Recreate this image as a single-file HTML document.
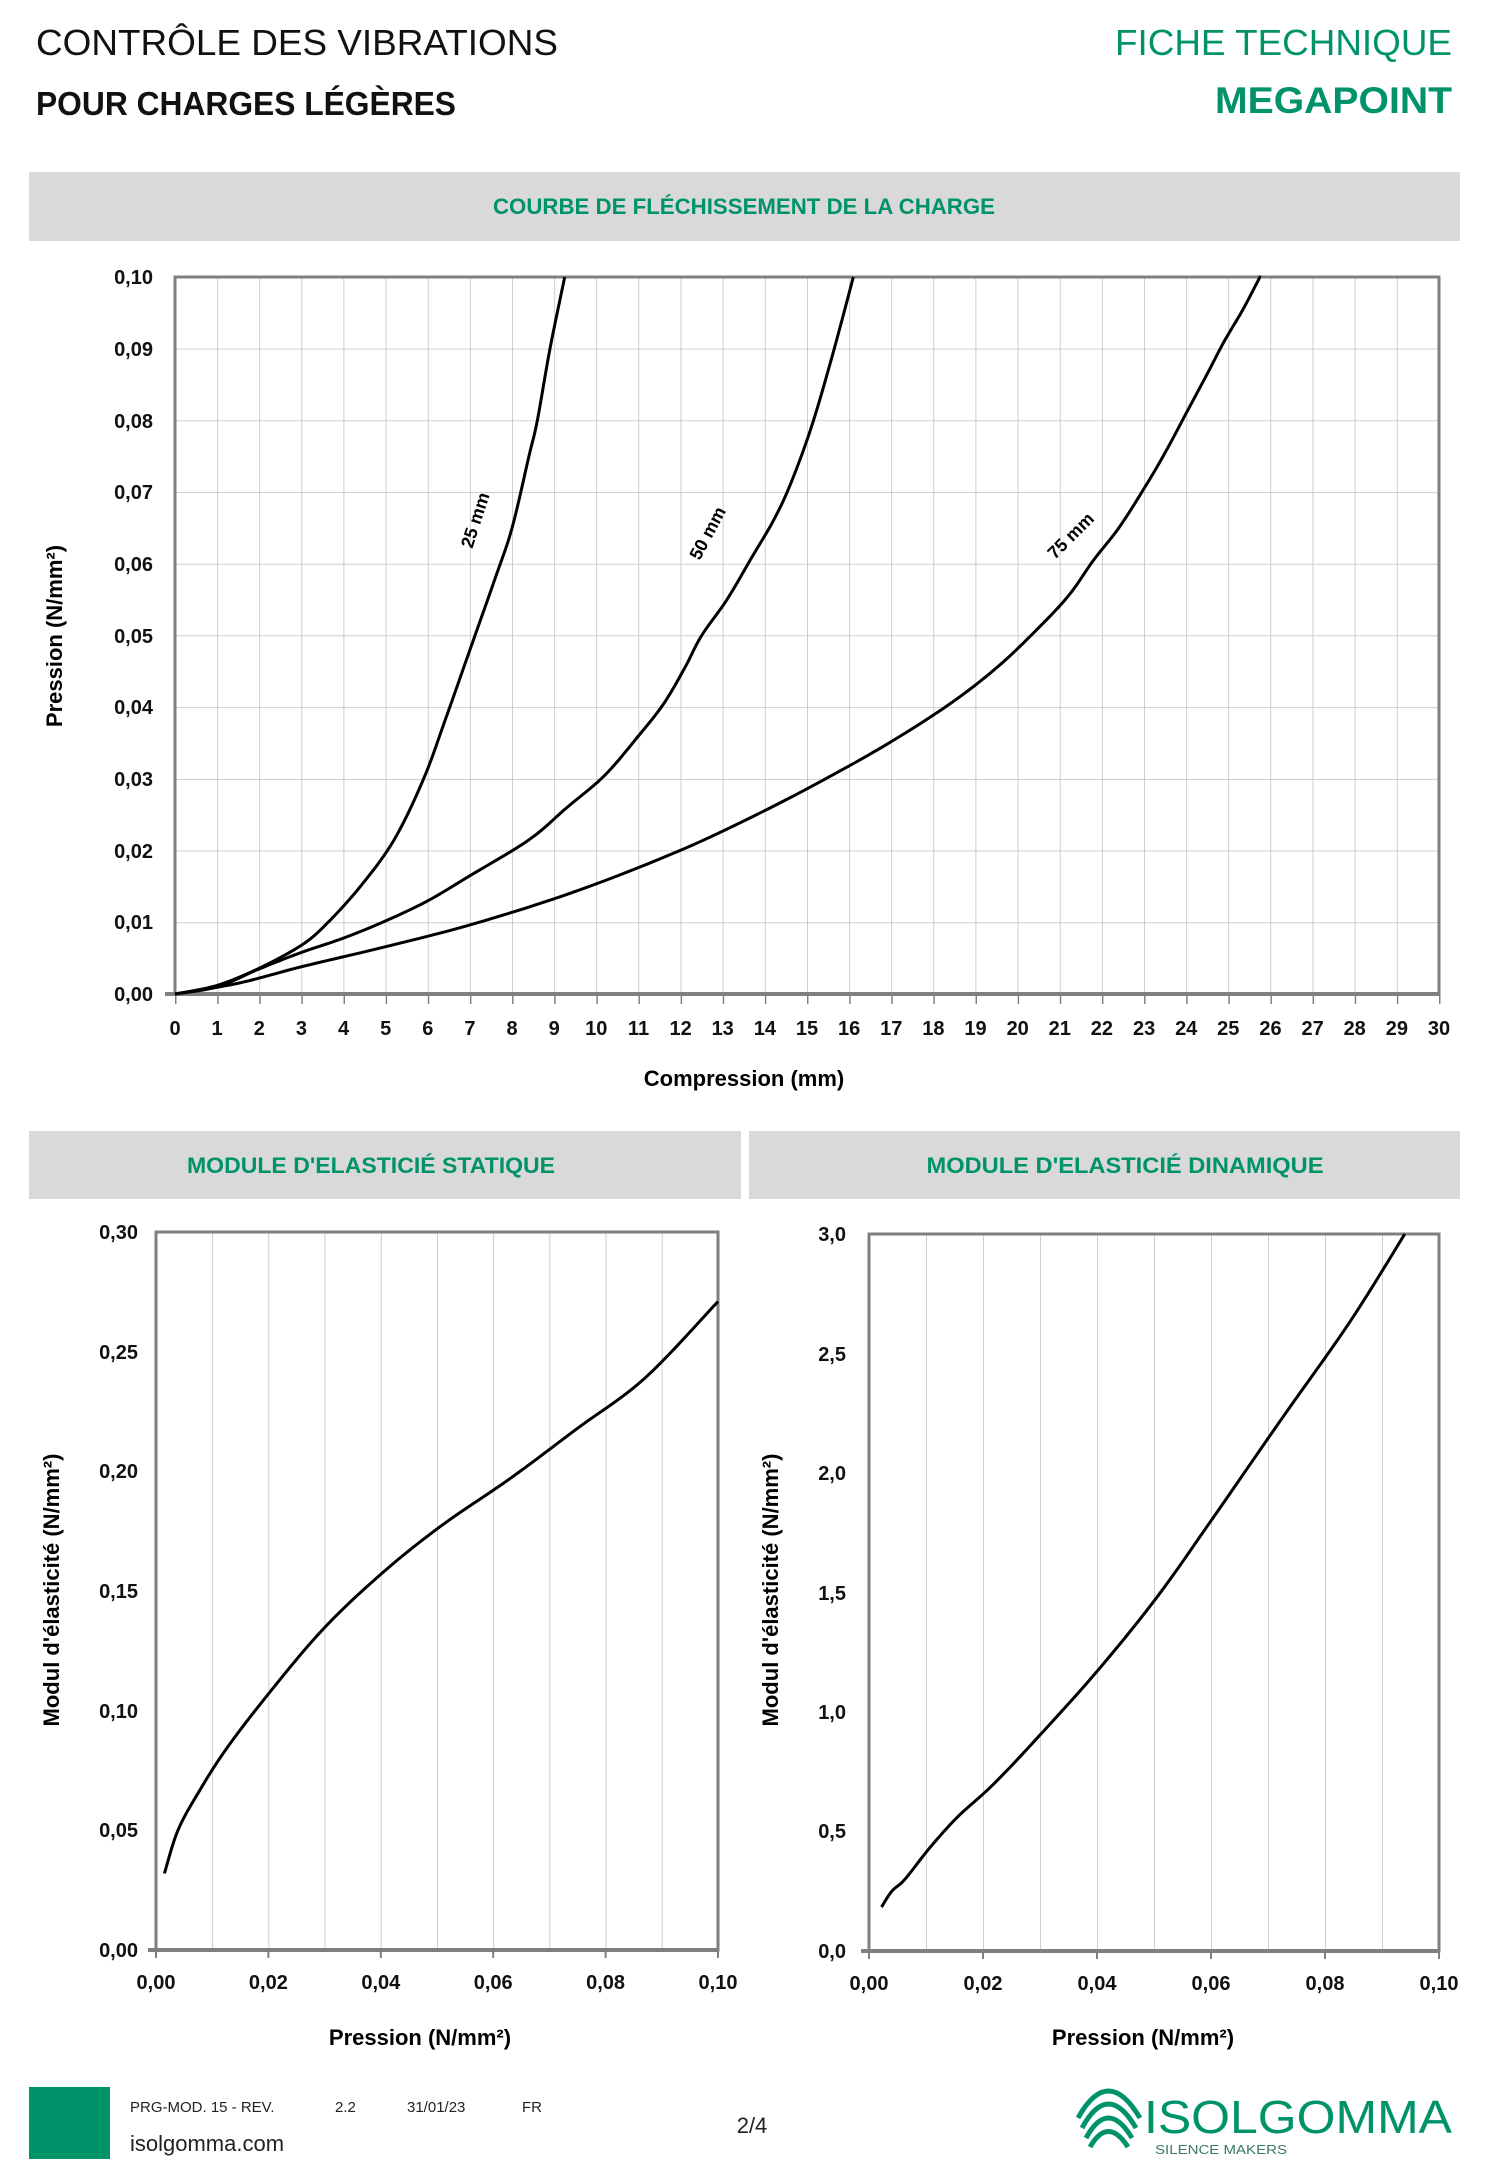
<!DOCTYPE html>
<html><head><meta charset="utf-8"><style>html,body{margin:0;padding:0;background:#fff}svg{display:block}</style></head>
<body>
<svg width="1500" height="2159" viewBox="0 0 1500 2159" xmlns="http://www.w3.org/2000/svg" font-family="'Liberation Sans', sans-serif">
<defs>
<pattern id="g1" x="175" y="277" width="42.133" height="71.7" patternUnits="userSpaceOnUse">
<line x1="0" y1="0" x2="0" y2="71.7" stroke="#bdbdbd" stroke-width="1.5"/>
<line x1="0" y1="0" x2="42.133" y2="0" stroke="#bdbdbd" stroke-width="1.5"/>
</pattern>
<pattern id="t1" x="175" y="994" width="42.133" height="10" patternUnits="userSpaceOnUse">
<line x1="0" y1="0" x2="0" y2="10" stroke="#7f7f7f" stroke-width="3"/>
</pattern>
<pattern id="g2" x="156" y="1232" width="56.2" height="718" patternUnits="userSpaceOnUse">
<line x1="0" y1="0" x2="0" y2="718" stroke="#bdbdbd" stroke-width="1.5"/>
</pattern>
<pattern id="g3" x="869" y="1234" width="57" height="717" patternUnits="userSpaceOnUse">
<line x1="0" y1="0" x2="0" y2="717" stroke="#bdbdbd" stroke-width="1.5"/>
</pattern>
</defs>

<text x="36" y="55" font-size="36" textLength="522" lengthAdjust="spacingAndGlyphs" fill="#111">CONTRÔLE DES VIBRATIONS</text>
<text x="36" y="115" font-size="33" font-weight="bold" textLength="420" lengthAdjust="spacingAndGlyphs" fill="#111">POUR CHARGES LÉGÈRES</text>
<text x="1452" y="55" font-size="36" text-anchor="end" textLength="337" lengthAdjust="spacingAndGlyphs" fill="#00936a">FICHE TECHNIQUE</text>
<text x="1452" y="113" font-size="37" font-weight="bold" text-anchor="end" textLength="237" lengthAdjust="spacingAndGlyphs" fill="#00936a">MEGAPOINT</text>

<rect x="29" y="172" width="1431" height="69" fill="#d9d9d9"/>
<text x="744" y="214" font-size="22" font-weight="bold" text-anchor="middle" textLength="502" lengthAdjust="spacingAndGlyphs" fill="#00936a">COURBE DE FLÉCHISSEMENT DE LA CHARGE</text>

<rect x="175" y="277" width="1264" height="717" fill="url(#g1)"/>
<rect x="175" y="994" width="1266" height="10" fill="url(#t1)"/>
<rect x="175" y="277" width="1264" height="717" fill="none" stroke="#7f7f7f" stroke-width="3"/>
<line x1="165" y1="994" x2="1439" y2="994" stroke="#7f7f7f" stroke-width="4"/>
<g transform="translate(175,994) scale(42.133,-7170)" fill="none" stroke="#000" stroke-width="3" stroke-linejoin="round">
<polyline class="sm" vector-effect="non-scaling-stroke" points="0,0 1,0.0012 2,0.0036 3,0.0068 3.6,0.0098 4.4,0.015 5.2,0.0215 5.9,0.03 6.4,0.038 7.0,0.048 7.6,0.058 8.0,0.065 8.4,0.075 8.6,0.08 8.9,0.09 9.25,0.1"/>
<polyline class="sm" vector-effect="non-scaling-stroke" points="0,0 1,0.001 2,0.0035 3,0.0058 4,0.0078 5,0.0102 6,0.013 7,0.0165 8.4,0.0215 9.3,0.026 10.2,0.0305 11,0.036 11.6,0.0405 12.1,0.0455 12.5,0.05 13.1,0.055 13.7,0.061 14.2,0.066 14.6,0.071 15.1,0.079 15.6,0.089 16.1,0.1"/>
<polyline class="sm" vector-effect="non-scaling-stroke" points="0,0 1.5,0.0015 3,0.0038 5,0.0066 7.1,0.0098 9.5,0.0143 11.9,0.0198 13.8,0.025 15.5,0.0302 17,0.0352 18.4,0.0405 19.5,0.0455 20.4,0.0505 21.2,0.0555 21.8,0.0605 22.4,0.065 23.0,0.0705 23.5,0.0755 24.0,0.081 24.5,0.0865 24.9,0.091 25.35,0.0955 25.75,0.1"/>
</g>
<text transform="translate(481,522) rotate(-72)" font-size="18" font-weight="bold" text-anchor="middle">25 mm</text>
<text transform="translate(713,536) rotate(-62)" font-size="18" font-weight="bold" text-anchor="middle">50 mm</text>
<text transform="translate(1075,540) rotate(-45)" font-size="18" font-weight="bold" text-anchor="middle">75 mm</text>

<g font-size="20" font-weight="bold" text-anchor="end" fill="#111">
<text x="153" y="1001">0,00</text><text x="153" y="929">0,01</text><text x="153" y="858">0,02</text><text x="153" y="786">0,03</text><text x="153" y="714">0,04</text><text x="153" y="643">0,05</text><text x="153" y="571">0,06</text><text x="153" y="499">0,07</text><text x="153" y="428">0,08</text><text x="153" y="356">0,09</text><text x="153" y="284">0,10</text>
</g>
<g font-size="20" font-weight="bold" text-anchor="middle" fill="#111">
<text x="175" y="1035">0</text><text x="217.1" y="1035">1</text><text x="259.3" y="1035">2</text><text x="301.4" y="1035">3</text><text x="343.5" y="1035">4</text><text x="385.7" y="1035">5</text><text x="427.8" y="1035">6</text><text x="469.9" y="1035">7</text><text x="512.1" y="1035">8</text><text x="554.2" y="1035">9</text><text x="596.3" y="1035">10</text><text x="638.5" y="1035">11</text><text x="680.6" y="1035">12</text><text x="722.7" y="1035">13</text><text x="764.9" y="1035">14</text><text x="807" y="1035">15</text><text x="849.1" y="1035">16</text><text x="891.3" y="1035">17</text><text x="933.4" y="1035">18</text><text x="975.5" y="1035">19</text><text x="1017.7" y="1035">20</text><text x="1059.8" y="1035">21</text><text x="1101.9" y="1035">22</text><text x="1144.1" y="1035">23</text><text x="1186.2" y="1035">24</text><text x="1228.3" y="1035">25</text><text x="1270.5" y="1035">26</text><text x="1312.6" y="1035">27</text><text x="1354.7" y="1035">28</text><text x="1396.9" y="1035">29</text><text x="1439" y="1035">30</text>
</g>
<text x="744" y="1086" font-size="22" font-weight="bold" text-anchor="middle">Compression (mm)</text>
<text transform="translate(62,636) rotate(-90)" font-size="22" font-weight="bold" text-anchor="middle">Pression (N/mm²)</text>

<rect x="29" y="1131" width="712" height="68" fill="#d9d9d9"/>
<rect x="749" y="1131" width="711" height="68" fill="#d9d9d9"/>
<text x="371" y="1173" font-size="22" font-weight="bold" text-anchor="middle" textLength="368" lengthAdjust="spacingAndGlyphs" fill="#00936a">MODULE D'ELASTICIÉ STATIQUE</text>
<text x="1125" y="1173" font-size="22" font-weight="bold" text-anchor="middle" textLength="397" lengthAdjust="spacingAndGlyphs" fill="#00936a">MODULE D'ELASTICIÉ DINAMIQUE</text>

<rect x="156" y="1232" width="562" height="718" fill="url(#g2)"/>
<rect x="156" y="1232" width="562" height="718" fill="none" stroke="#7f7f7f" stroke-width="3"/>
<line x1="148" y1="1950" x2="718" y2="1950" stroke="#7f7f7f" stroke-width="4"/>
<g stroke="#7f7f7f" stroke-width="2"><line x1="156" y1="1950" x2="156" y2="1958"/><line x1="268.4" y1="1950" x2="268.4" y2="1958"/><line x1="380.8" y1="1950" x2="380.8" y2="1958"/><line x1="493.2" y1="1950" x2="493.2" y2="1958"/><line x1="605.6" y1="1950" x2="605.6" y2="1958"/><line x1="718" y1="1950" x2="718" y2="1958"/></g>
<g transform="translate(156,1950) scale(5620,-2393)" fill="none" stroke="#000">
<polyline class="sm" vector-effect="non-scaling-stroke" stroke-width="3" stroke-linejoin="round" points="0.0015,0.032 0.0039,0.05 0.0076,0.066 0.0125,0.084 0.02,0.107 0.0297,0.134 0.04,0.157 0.0506,0.177 0.063,0.197 0.075,0.218 0.087,0.239 0.1,0.271"/>
</g>
<g font-size="20" font-weight="bold" text-anchor="end" fill="#111">
<text x="138" y="1957">0,00</text><text x="138" y="1837">0,05</text><text x="138" y="1718">0,10</text><text x="138" y="1598">0,15</text><text x="138" y="1478">0,20</text><text x="138" y="1359">0,25</text><text x="138" y="1239">0,30</text>
</g>
<g font-size="20" font-weight="bold" text-anchor="middle" fill="#111">
<text x="156" y="1989">0,00</text><text x="268.4" y="1989">0,02</text><text x="380.8" y="1989">0,04</text><text x="493.2" y="1989">0,06</text><text x="605.6" y="1989">0,08</text><text x="718" y="1989">0,10</text>
</g>
<text x="420" y="2045" font-size="22" font-weight="bold" text-anchor="middle">Pression (N/mm²)</text>
<text transform="translate(59,1590) rotate(-90)" font-size="22" font-weight="bold" text-anchor="middle">Modul d'élasticité (N/mm²)</text>

<rect x="869" y="1234" width="570" height="717" fill="url(#g3)"/>
<rect x="869" y="1234" width="570" height="717" fill="none" stroke="#7f7f7f" stroke-width="3"/>
<line x1="861" y1="1951" x2="1439" y2="1951" stroke="#7f7f7f" stroke-width="4"/>
<g stroke="#7f7f7f" stroke-width="2"><line x1="869" y1="1951" x2="869" y2="1959"/><line x1="983" y1="1951" x2="983" y2="1959"/><line x1="1097" y1="1951" x2="1097" y2="1959"/><line x1="1211" y1="1951" x2="1211" y2="1959"/><line x1="1325" y1="1951" x2="1325" y2="1959"/><line x1="1439" y1="1951" x2="1439" y2="1959"/></g>
<g transform="translate(869,1951) scale(5700,-239)" fill="none" stroke="#000">
<polyline class="sm" vector-effect="non-scaling-stroke" stroke-width="3" stroke-linejoin="round" points="0.0022,0.184 0.004,0.25 0.0063,0.3 0.0106,0.43 0.0155,0.56 0.0215,0.69 0.0287,0.87 0.04,1.17 0.0505,1.48 0.06,1.8 0.0722,2.22 0.0843,2.63 0.094,3.0"/>
</g>
<g font-size="20" font-weight="bold" text-anchor="end" fill="#111">
<text x="846" y="1958">0,0</text><text x="846" y="1838">0,5</text><text x="846" y="1719">1,0</text><text x="846" y="1600">1,5</text><text x="846" y="1480">2,0</text><text x="846" y="1361">2,5</text><text x="846" y="1241">3,0</text>
</g>
<g font-size="20" font-weight="bold" text-anchor="middle" fill="#111">
<text x="869" y="1990">0,00</text><text x="983" y="1990">0,02</text><text x="1097" y="1990">0,04</text><text x="1211" y="1990">0,06</text><text x="1325" y="1990">0,08</text><text x="1439" y="1990">0,10</text>
</g>
<text x="1143" y="2045" font-size="22" font-weight="bold" text-anchor="middle">Pression (N/mm²)</text>
<text transform="translate(778,1590) rotate(-90)" font-size="22" font-weight="bold" text-anchor="middle">Modul d'élasticité (N/mm²)</text>

<rect x="29" y="2087" width="81" height="72" fill="#00936a"/>
<g font-size="15" fill="#222">
<text x="130" y="2112">PRG-MOD. 15 - REV.</text><text x="335" y="2112">2.2</text><text x="407" y="2112">31/01/23</text><text x="522" y="2112">FR</text>
</g>
<text x="130" y="2151" font-size="22" fill="#222">isolgomma.com</text>
<text x="752" y="2133" font-size="22" text-anchor="middle" fill="#222">2/4</text>
<g fill="none" stroke="#00936a" stroke-width="5">
<path d="M1082,2128 Q1108,2080 1136,2128"/><path d="M1086,2138 Q1108,2098 1132,2138"/><path d="M1090,2147 Q1108,2116 1128,2147"/><path d="M1078,2118 Q1108,2064 1140,2118"/>
</g>
<text x="1144" y="2133" font-size="46" fill="#00936a" textLength="308" lengthAdjust="spacingAndGlyphs">ISOLGOMMA</text>
<text x="1155" y="2154" font-size="13" fill="#3a7a63" textLength="132" lengthAdjust="spacingAndGlyphs">SILENCE MAKERS</text>
</svg>
<script>
document.querySelectorAll('polyline.sm').forEach(function(pl){
  var p=pl.getAttribute('points').trim().split(/\s+/).map(function(s){return s.split(',').map(Number);});
  var out=[];
  for(var i=0;i<p.length-1;i++){
    var p0=p[i-1]||p[i],p1=p[i],p2=p[i+1],p3=p[i+2]||p[i+1];
    for(var t=0;t<1;t+=0.1){
      var t2=t*t,t3=t2*t,r=[];
      for(var k=0;k<2;k++){
        r.push(0.5*((2*p1[k])+(-p0[k]+p2[k])*t+(2*p0[k]-5*p1[k]+4*p2[k]-p3[k])*t2+(-p0[k]+3*p1[k]-3*p2[k]+p3[k])*t3));
      }
      out.push(r.join(','));
    }
  }
  out.push(p[p.length-1].join(','));
  pl.setAttribute('points',out.join(' '));
});
</script>
</body></html>
